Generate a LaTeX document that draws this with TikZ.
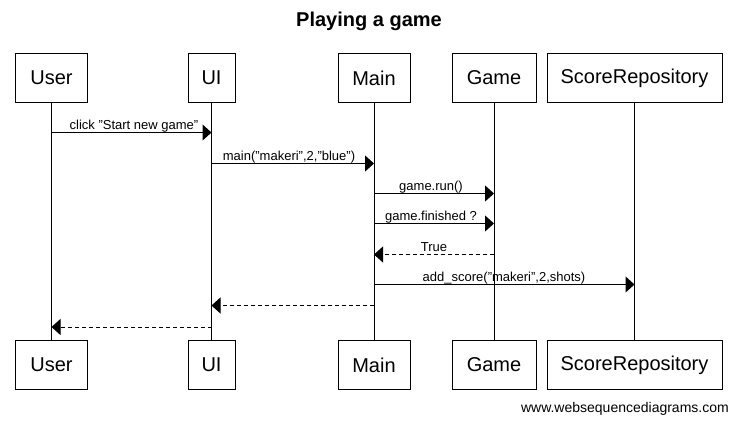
\documentclass[tikz,border=0pt]{standalone}
\usepackage{fontspec}
\setmainfont{Liberation Sans}
\usetikzlibrary{arrows.meta}
\newcommand{\dq}{\symbol{34}}
\begin{document}
\begin{tikzpicture}[x=1pt,y=-1pt,
  part/.style={draw,line width=1pt,minimum height=49pt,inner sep=0pt,font=\fontsize{20}{20}\selectfont},
  life/.style={line width=1pt},
  msg/.style={line width=1pt,-{Triangle[length=9pt,width=16pt]}},
  ret/.style={msg,dash pattern=on 4pt off 3pt},
  lbl/.style={font=\fontsize{13}{13}\selectfont,anchor=base,inner sep=0pt}]
\useasboundingbox (0,0) rectangle (738,424);
\node[font=\bfseries\fontsize{20}{20}\selectfont] (title) at (369,21) {Playing a game};
% top participants
\node[part,minimum width=72pt] (uT) at (51.5,78) {User};
\node[part,minimum width=47pt] (iT) at (211.5,78) {UI};
\node[part,minimum width=72pt] (mT) at (374,78) {Main};
\node[part,minimum width=84pt] (gT) at (494,78) {Game};
\node[part,minimum width=175pt] (sT) at (634.5,78) {ScoreRepository};
% bottom participants
\node[part,minimum width=72pt] (uB) at (51.5,365) {User};
\node[part,minimum width=47pt] (iB) at (211.5,365) {UI};
\node[part,minimum width=72pt] (mB) at (374,365) {Main};
\node[part,minimum width=84pt] (gB) at (494,365) {Game};
\node[part,minimum width=175pt] (sB) at (634.5,365) {ScoreRepository};
% lifelines
\draw[life] (uT) -- (uB);
\draw[life] (iT) -- (iB);
\draw[life] (mT) -- (mB);
\draw[life] (gT) -- (gB);
\draw[life] (sT) -- (sB);
% message points
\coordinate (a1) at (51.5,132.5);  \coordinate (b1) at (211.5,132.5);
\coordinate (a2) at (211.5,163.5); \coordinate (b2) at (374,163.5);
\coordinate (a3) at (374,193.5);   \coordinate (b3) at (494,193.5);
\coordinate (a4) at (374,223.5);   \coordinate (b4) at (494,223.5);
\coordinate (a5) at (494,254.5);   \coordinate (b5) at (374,254.5);
\coordinate (a6) at (374,284.5);   \coordinate (b6) at (634.5,284.5);
\coordinate (a7) at (374,305.5);   \coordinate (b7) at (211.5,305.5);
\coordinate (a8) at (211.5,327);   \coordinate (b8) at (51.5,327);
\draw[msg] (a1) -- (b1);
\node[lbl] (l1) at (134,129) {click \dq Start new game\dq};
\draw[msg] (a2) -- (b2);
\node[lbl] (l2) at (289,160) {main(\dq makeri\dq,2,\dq blue\dq)};
\draw[msg] (a3) -- (b3);
\node[lbl] (l3) at (431,190) {game.run()};
\draw[msg] (a4) -- (b4);
\node[lbl] (l4) at (431,220) {game.finished ?};
\draw[ret] (a5) -- (b5);
\node[lbl] (l5) at (434,251) {True};
\draw[msg] (a6) -- (b6);
\node[lbl] (l6) at (504,281) {add\_score(\dq makeri\dq,2,shots)};
\draw[ret] (a7) -- (b7);
\draw[ret] (a8) -- (b8);
\node[font=\fontsize{14}{14}\selectfont,anchor=base east,inner sep=0pt] (foot) at (729,412) {www.websequencediagrams.com};
\end{tikzpicture}
\end{document}
